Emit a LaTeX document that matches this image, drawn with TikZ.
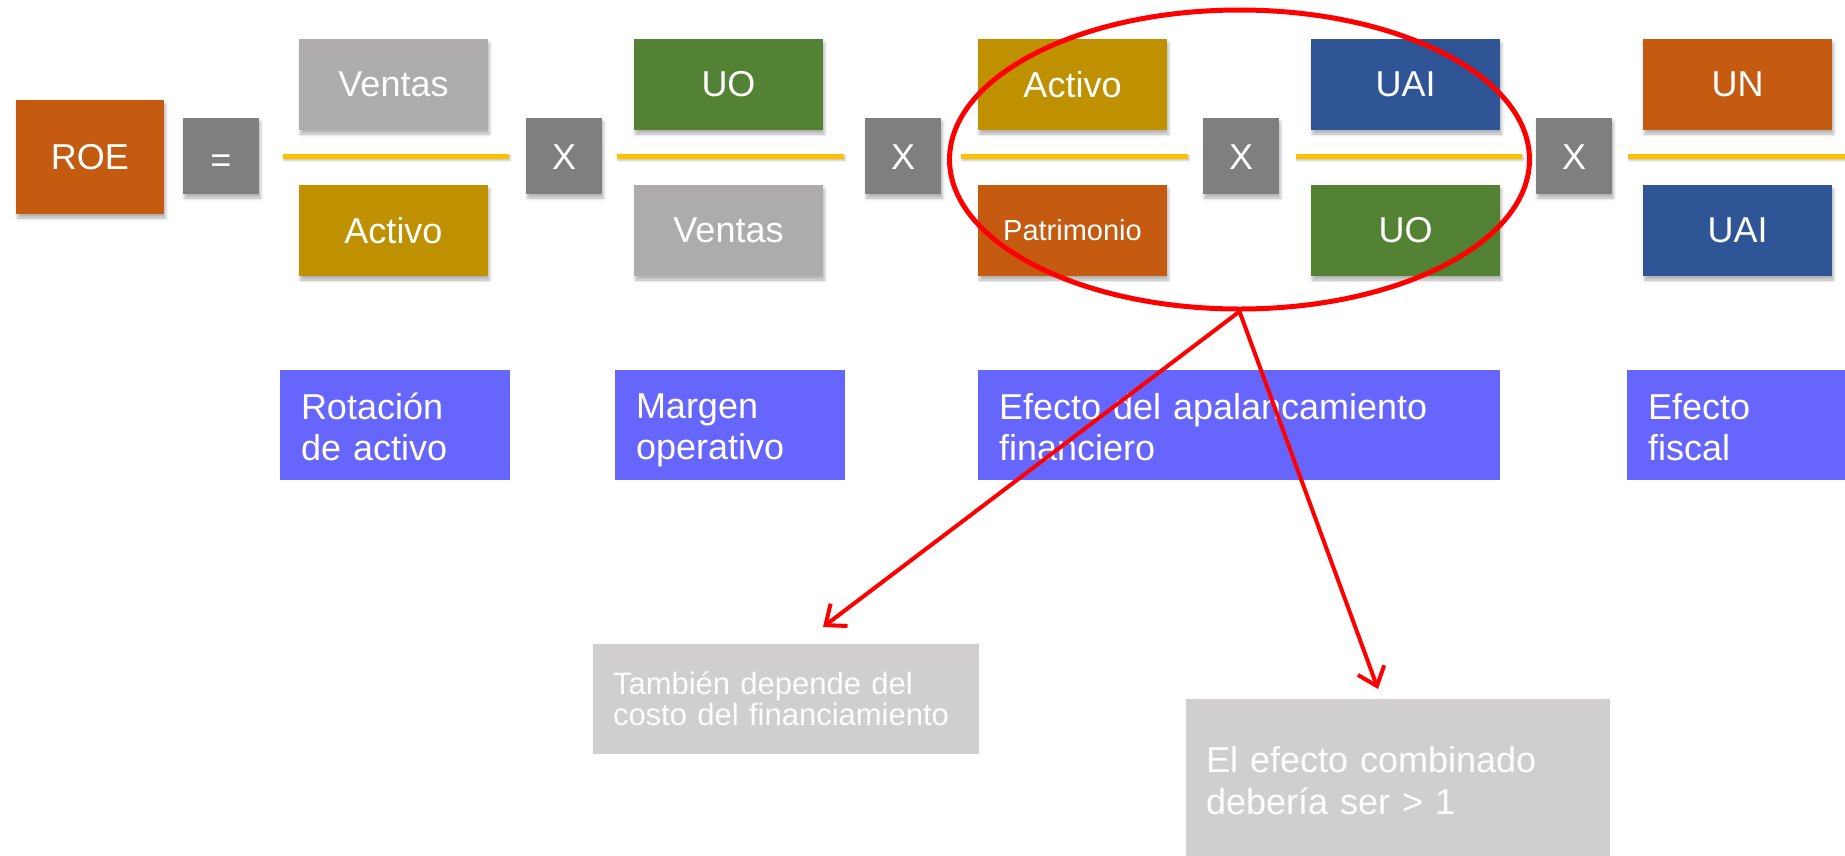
\documentclass[tikz,border=0pt]{standalone}
\usepackage{fontspec}
\setmainfont{Liberation Sans}
\usetikzlibrary{shapes.geometric,arrows.meta,shadows.blur}
\definecolor{cOrange}{HTML}{C55A11}
\definecolor{cGrayD}{HTML}{7F7F7F}
\definecolor{cGrayL}{HTML}{AEABAB}
\definecolor{cGold}{HTML}{BF9000}
\definecolor{cGreen}{HTML}{548235}
\definecolor{cBlue}{HTML}{2F5597}
\definecolor{cLab}{HTML}{6666FF}
\definecolor{cYellow}{HTML}{FFC000}
\definecolor{cNote}{HTML}{D0CECE}
\definecolor{cRed}{HTML}{FF0000}
\newcommand\twolines[4]{\rule{0pt}{#3}#1\\#2\rule[-#4]{0pt}{#4}}
\tikzset{
  shad/.style={blur shadow={shadow xshift=1.5pt,shadow yshift=-4pt,shadow blur radius=3pt,shadow opacity=30}},
  term/.style={shad,minimum width=189pt,minimum height=91pt,inner sep=0pt,text=white,font=\fontsize{36}{41}\selectfont},
  opbox/.style={shad,fill=cGrayD,minimum width=76pt,minimum height=76pt,inner sep=0pt,text=white,font=\fontsize{36}{41}\selectfont,text height=26pt,text depth=0pt},
  fbar/.style={fill=cYellow,minimum height=5pt,inner sep=0pt,blur shadow={shadow xshift=1pt,shadow yshift=-2pt,shadow blur radius=2pt,shadow opacity=25}},
  lab/.style={fill=cLab,text=white,minimum height=110pt,inner xsep=21pt,inner ysep=0pt,align=left,font=\fontsize{36}{41}\selectfont},
  note/.style={fill=cNote,text=white,inner xsep=20pt,inner ysep=0pt,align=left},
  callout/.style={draw=cRed,line width=4pt,-{Straight Barb[length=17pt,width=28pt]}}
}
\begin{document}
\begin{tikzpicture}[x=1pt,y=-1pt]
\useasboundingbox (0,0) rectangle (1845,855);
% left part
\node[shad,fill=cOrange,minimum width=148pt,minimum height=114pt,inner sep=0pt,text=white,font=\fontsize{36}{41}\selectfont] (roe) at (90,157) {ROE};
\node[opbox,text height=32pt] (eq) at (221,156) {=};
% column 1
\node[term,fill=cGrayL] (n1) at (393.5,84.5) {Ventas};
\node[fbar,minimum width=226pt] (b1) at (396,156) {};
\node[term,fill=cGold] (d1) at (393.5,230.5) {Activo};
\node[opbox] (x1) at (564,156) {X};
% column 2
\node[term,fill=cGreen] (n2) at (728.5,84.5) {UO};
\node[fbar,minimum width=227pt] (b2) at (730.5,156) {};
\node[term,fill=cGrayL] (d2) at (728.5,230.5) {Ventas};
\node[opbox] (x2) at (903,156) {X};
% column 3
\node[term,fill=cGold] (n3) at (1072.5,84.5) {Activo};
\node[fbar,minimum width=227pt] (b3) at (1074.5,156) {};
\node[term,fill=cOrange,font=\fontsize{29}{33}\selectfont] (d3) at (1072.5,230.5) {Patrimonio};
\node[opbox] (x3) at (1241,156) {X};
% column 4
\node[term,fill=cBlue] (n4) at (1405.5,84.5) {UAI};
\node[fbar,minimum width=226pt] (b4) at (1409,156) {};
\node[term,fill=cGreen] (d4) at (1405.5,230.5) {UO};
\node[opbox] (x4) at (1574,156) {X};
% column 5
\node[term,fill=cOrange] (n5) at (1737.5,84.5) {UN};
\node[fbar,minimum width=227pt] (b5) at (1741.5,156) {};
\node[term,fill=cBlue] (d5) at (1737.5,230.5) {UAI};
% labels
\node[lab,text width=188pt] (l1) at (395,425) {\twolines{Rotación}{de activo}{35pt}{6pt}};
\node[lab,text width=188pt] (l2) at (730,425) {\twolines{Margen}{operativo}{35pt}{6pt}};
\node[lab,text width=480pt] (l3) at (1239,425) {\twolines{Efecto del apalancamiento}{financiero}{35pt}{6pt}};
\node[lab,text width=188pt] (l4) at (1742,425) {\twolines{Efecto}{fiscal}{35pt}{6pt}};
% ellipse highlight
\node[ellipse,draw=cRed,line width=5pt,minimum width=580pt,minimum height=299pt,inner sep=0pt] (ell) at (1239.5,159.5) {};
% notes
\node[note,text width=346pt,minimum height=110pt,font=\fontsize{31}{31}\selectfont] (m1) at (786,699) {\twolines{También depende del}{costo del financiamiento}{25pt}{3pt}};
\node[note,text width=384pt,minimum height=168pt,font=\fontsize{36}{42}\selectfont] (m2) at (1398,783) {\twolines{El efecto combinado}{debería ser > 1}{30pt}{9pt}};
\coordinate (t1) at (823,627);
\coordinate (t2) at (1378,689);
\draw[callout] (ell.south) -- (t1);
\draw[callout] (ell.south) -- (t2);
\end{tikzpicture}
\end{document}
